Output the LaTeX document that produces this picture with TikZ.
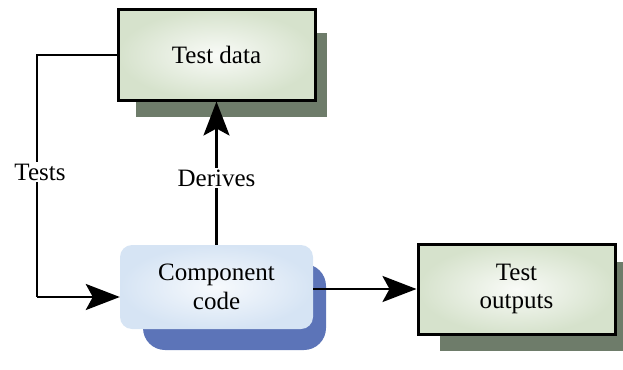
\documentclass[tikz,border=0pt]{standalone}
\usepackage{fontspec}
\setmainfont{Liberation Serif}
\usetikzlibrary{arrows.meta,calc}
\definecolor{boxfill}{RGB}{214,226,204}
\definecolor{boxshadow}{RGB}{110,124,106}
\definecolor{codefill}{RGB}{214,228,244}
\definecolor{codeshadow}{RGB}{92,116,184}
\tikzset{
  x=1pt, y=-1pt,
  databox/.style={draw=black, line width=3pt, minimum width=197, minimum height=90,
    inner color=white!85!boxfill, outer color=boxfill, align=center,
    font=\fontsize{25}{28}\selectfont},
  codebox/.style={rounded corners=12, minimum width=193, minimum height=84,
    inner color=white!80!codefill, outer color=codefill, align=center,
    font=\fontsize{25}{29}\selectfont},
  flow/.style={line width=2.8pt, -{Stealth[length=34pt, width=26pt, inset=7pt]}},
  wire/.style={line width=2.8pt},
  lbl/.style={fill=white, inner sep=2pt, font=\fontsize{25}{28}\selectfont}
}
\begin{document}
\begin{tikzpicture}
\useasboundingbox (0,0) rectangle (623,369);
% drop shadows
\fill[boxshadow] (136,33) rectangle (327,117);
\fill[boxshadow] (440,262) rectangle (630,351);
\fill[codeshadow, rounded corners=22] (143,264) rectangle (326,350);
% boxes
\node[databox] (td) at (216.5,55) {Test data};
\node[databox] (to) at (516.5,289) {Test\\outputs};
\node[codebox] (cc) at (216.5,287) {Component\\code};
% connectors
\coordinate (tl) at (37,55);
\coordinate (bl) at (37,297);
\draw[wire] (td.west) -- (tl) -- (bl);
\draw[flow] (bl) -- (bl -| cc.west);
\draw[flow] (cc.north) -- (td.south);
\draw[flow] (cc.east |- to.west) -- (to.west);
% labels
\node[lbl] at (40,172) {Tests};
\node[lbl] at (216.5,178) {Derives};
\end{tikzpicture}
\end{document}
